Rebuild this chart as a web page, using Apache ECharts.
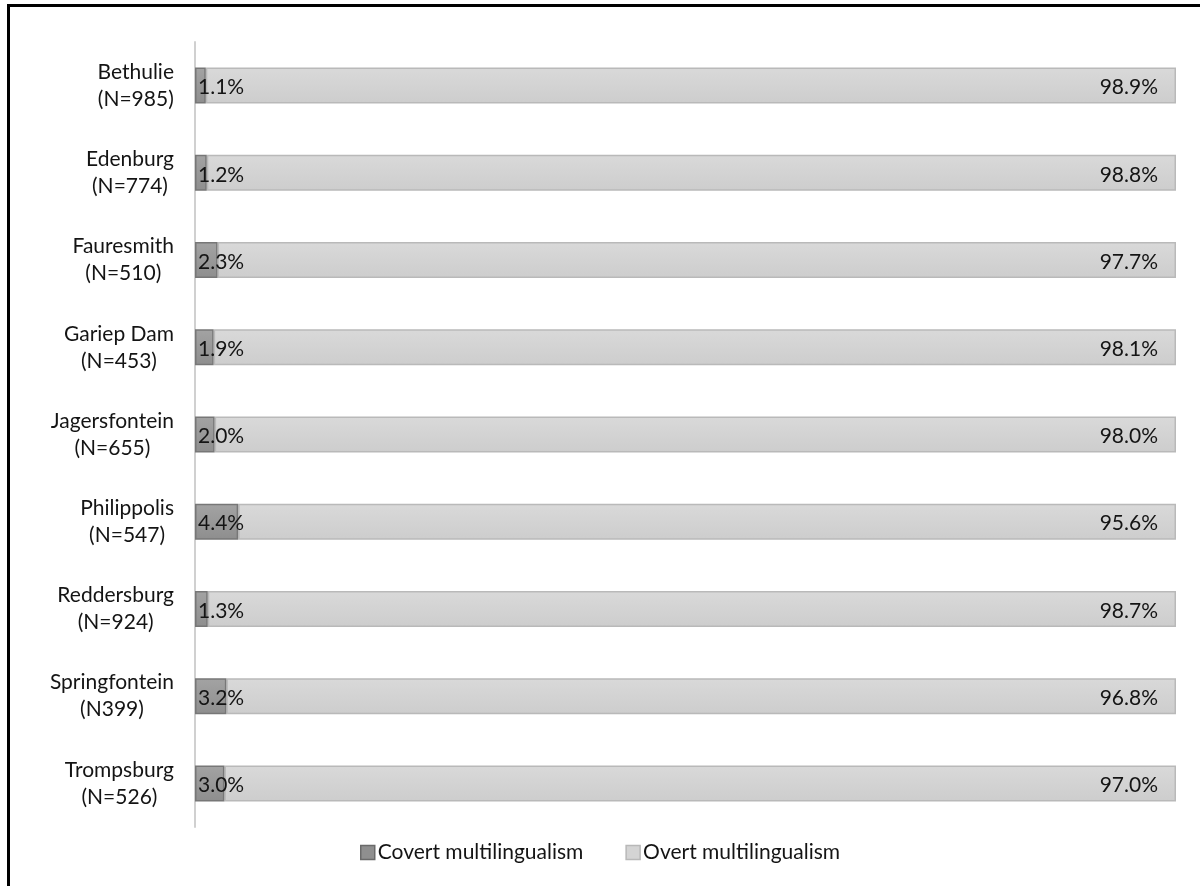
<!DOCTYPE html>
<html>
<head>
<meta charset="utf-8">
<script src="https://cdn.jsdelivr.net/npm/echarts@6/dist/echarts.min.js"></script>
<style>
  html, body { margin: 0; padding: 0; background: #fff; }
  #chart { width: 1200px; height: 886px; }
</style>
</head>
<body>
<div id="chart"></div>
<script>
// Towns and sample sizes
const towns = ['Bethulie', 'Edenburg', 'Fauresmith', 'Gariep Dam', 'Jagersfontein',
  'Philippolis', 'Reddersburg', 'Springfontein', 'Trompsburg'];
const sampleLabels = ['(N=985)', '(N=774)', '(N=510)', '(N=453)', '(N=655)',
  '(N=547)', '(N=924)', '(N399)', '(N=526)'];

// Share of signs (%)
const covert = [1.1, 1.2, 2.3, 1.9, 2.0, 4.4, 1.3, 3.2, 3.0];
const overt = [98.9, 98.8, 97.7, 98.1, 98.0, 95.6, 98.7, 96.8, 97.0];

const seriesNames = ['Covert multilingualism', 'Overt multilingualism'];

const FONT = 'Lato, "Noto Sans", sans-serif';
const SIZE = 21;
const TEXT = '#141414';

const categories = towns.map((t, i) => t + '\n' + sampleLabels[i]);

const covertFill = new echarts.graphic.LinearGradient(0, 0, 0, 1, [
  { offset: 0, color: '#a3a3a3' }, { offset: 1, color: '#8e8e8e' }
]);
const overtFill = new echarts.graphic.LinearGradient(0, 0, 0, 1, [
  { offset: 0, color: '#d9d9d9' }, { offset: 1, color: '#cdcdcd' }
]);

const chart = echarts.init(document.getElementById('chart'), null, { renderer: 'canvas' });

chart.setOption({
  animation: false,
  backgroundColor: '#fff',
  textStyle: { fontFamily: FONT },
  graphic: [{
    type: 'rect',
    silent: true,
    z: 100,
    shape: { x: 8.5, y: 5.5, width: 1300, height: 1000 },
    style: { fill: 'none', stroke: '#000', lineWidth: 3 }
  }],
  grid: { left: 195, right: 24, top: 42, bottom: 59, containLabel: false },
  legend: {
    bottom: 18,
    left: 355,
    icon: 'rect',
    itemWidth: 14,
    itemHeight: 14,
    itemGap: 42,
    textStyle: { fontFamily: FONT, fontSize: SIZE, color: TEXT, padding: [0, 0, 0, -2] },
    data: [
      { name: seriesNames[0], itemStyle: { color: '#8f8f8f', borderColor: '#6a6a6a', borderWidth: 1.5 } },
      { name: seriesNames[1], itemStyle: { color: '#d4d4d4', borderColor: '#b8b8b8', borderWidth: 1.5 } }
    ]
  },
  xAxis: {
    type: 'value',
    min: 0,
    max: 100,
    show: false
  },
  yAxis: {
    type: 'category',
    inverse: true,
    data: categories,
    axisLine: { show: true, lineStyle: { color: '#d0d0d0', width: 2 } },
    axisTick: { show: false },
    axisLabel: {
      margin: 21,
      align: 'right',
      formatter: function (v) {
        return v.split('\n').map(s => '{c|' + s + '}').join('\n');
      },
      rich: {
        c: { fontFamily: FONT, fontSize: SIZE, color: TEXT, align: 'center', lineHeight: 27 }
      }
    }
  },
  series: [
    {
      name: seriesNames[0],
      type: 'bar',
      stack: 'share',
      barWidth: 36,
      data: covert,
      itemStyle: { color: covertFill, borderColor: '#777', borderWidth: 1.5 },
      label: {
        show: true,
        position: 'insideLeft',
        distance: 3,
        offset: [0, 2],
        fontFamily: FONT,
        fontSize: SIZE,
        color: TEXT,
        formatter: p => p.value.toFixed(1) + '%'
      },
      z: 3
    },
    {
      name: seriesNames[1],
      type: 'bar',
      stack: 'share',
      barWidth: 36,
      data: overt,
      itemStyle: { color: overtFill, borderColor: '#b9b9b9', borderWidth: 1.5 },
      label: {
        show: true,
        position: 'insideRight',
        distance: 18,
        offset: [0, 2],
        fontFamily: FONT,
        fontSize: SIZE,
        color: TEXT,
        formatter: p => p.value.toFixed(1) + '%'
      },
      z: 2
    }
  ]
});
</script>
</body>
</html>
